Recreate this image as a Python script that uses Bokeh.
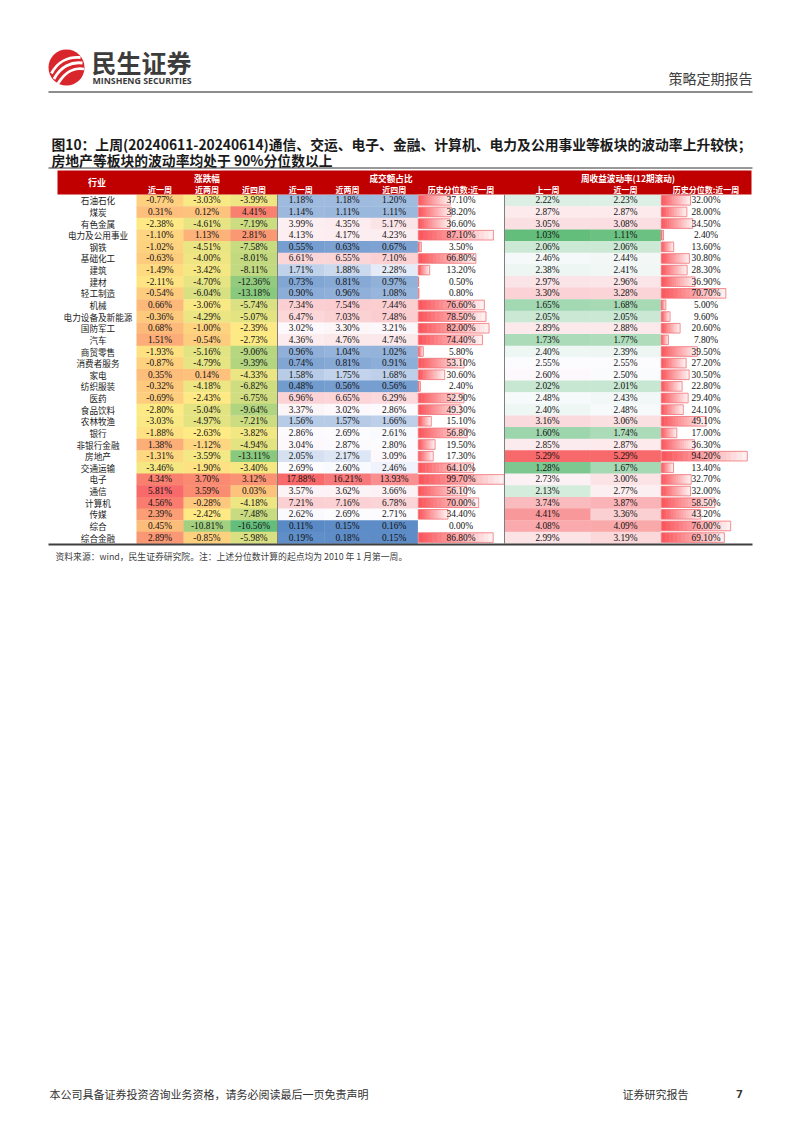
import numpy as np
from bokeh.plotting import figure
from bokeh.models import Range1d, ColumnDataSource
from bokeh.core.properties import value
from bokeh.embed import file_html
from bokeh.resources import INLINE

# ---------------- data ----------------
industries = ["石油石化", "煤炭", "有色金属", "电力及公用事业", "钢铁", "基础化工", "建筑", "建材",
              "轻工制造", "机械", "电力设备及新能源", "国防军工", "汽车", "商贸零售", "消费者服务", "家电",
              "纺织服装", "医药", "食品饮料", "农林牧渔", "银行", "非银行金融", "房地产", "交通运输",
              "电子", "通信", "计算机", "传媒", "综合", "综合金融"]
chg_1w = [-0.77, 0.31, -2.38, -1.10, -1.02, -0.63, -1.49, -2.11, -0.54, 0.66, -0.36, 0.68, 1.51, -1.93, -0.87,
          0.35, -0.32, -0.69, -2.80, -3.03, -1.88, 1.38, -1.31, -3.46, 4.34, 5.81, 4.56, 2.39, 0.45, 2.89]
chg_2w = [-3.03, 0.12, -4.61, 1.13, -4.51, -4.00, -3.42, -4.70, -6.04, -3.06, -4.29, -1.00, -0.54, -5.16, -4.79,
          0.14, -4.18, -2.43, -5.04, -4.97, -2.63, -1.12, -3.59, -1.90, 3.70, 3.59, -0.28, -2.42, -10.81, -0.85]
chg_4w = [-3.99, 4.41, -7.19, 2.81, -7.58, -8.01, -8.11, -12.36, -13.18, -5.74, -5.07, -2.39, -2.73, -9.06, -9.39,
          -4.33, -6.82, -6.75, -9.64, -7.21, -3.82, -4.94, -13.11, -3.40, 3.12, 0.03, -4.18, -7.48, -16.56, -5.98]
amt_1w = [1.18, 1.14, 3.99, 4.13, 0.55, 6.61, 1.71, 0.73, 0.90, 7.34, 6.47, 3.02, 4.36, 0.96, 0.74,
          1.58, 0.48, 6.96, 3.37, 1.56, 2.86, 3.04, 2.05, 2.69, 17.88, 3.57, 7.21, 2.62, 0.11, 0.19]
amt_2w = [1.18, 1.11, 4.35, 4.17, 0.63, 6.55, 1.88, 0.81, 0.96, 7.54, 7.03, 3.30, 4.76, 1.04, 0.81,
          1.75, 0.56, 6.65, 3.02, 1.57, 2.69, 2.87, 2.17, 2.60, 16.21, 3.62, 7.16, 2.69, 0.15, 0.18]
amt_4w = [1.20, 1.11, 5.17, 4.23, 0.67, 7.10, 2.28, 0.97, 1.08, 7.44, 7.48, 3.21, 4.74, 1.02, 0.91,
          1.68, 0.56, 6.29, 2.86, 1.66, 2.61, 2.80, 3.09, 2.46, 13.93, 3.66, 6.78, 2.71, 0.16, 0.15]
amt_pct = [37.10, 38.20, 36.60, 87.10, 3.50, 66.80, 13.20, 0.50, 0.80, 76.60, 78.50, 82.00, 74.40, 5.80, 53.10,
           30.60, 2.40, 52.90, 49.30, 15.10, 56.80, 19.50, 17.30, 64.10, 99.70, 56.10, 70.00, 34.40, 0.00, 86.80]
vol_prev = [2.22, 2.87, 3.05, 1.03, 2.06, 2.46, 2.38, 2.97, 3.30, 1.65, 2.05, 2.89, 1.73, 2.40, 2.55,
            2.60, 2.02, 2.48, 2.40, 3.16, 1.60, 2.85, 5.29, 1.28, 2.73, 2.13, 3.74, 4.41, 4.08, 2.99]
vol_now = [2.23, 2.87, 3.08, 1.11, 2.06, 2.44, 2.41, 2.96, 3.28, 1.68, 2.05, 2.88, 1.77, 2.39, 2.55,
           2.50, 2.01, 2.43, 2.48, 3.06, 1.74, 2.87, 5.29, 1.67, 3.00, 2.77, 3.87, 3.36, 4.09, 3.19]
vol_pct = [32.00, 28.00, 34.50, 2.40, 13.60, 30.80, 28.30, 36.90, 70.70, 5.00, 9.60, 20.60, 7.80, 39.50, 27.20,
           30.50, 22.80, 29.40, 24.10, 49.10, 17.00, 36.30, 94.20, 13.40, 32.70, 32.00, 58.50, 43.20, 76.00, 69.10]

group_labels = ["涨跌幅", "成交额占比", "周收益波动率(12期滚动)"]
sub_labels = ["近一周", "近两周", "近四周", "近一周", "近两周", "近四周", "历史分位数:近一周",
              "上一周", "近一周", "历史分位数:近一周"]

title1 = "图10：上周(20240611-20240614)通信、交运、电子、金融、计算机、电力及公用事业等板块的波动率上升较快；"
title2 = "房地产等板块的波动率均处于 90%分位数以上"
source_note = "资料来源：wind，民生证券研究院。注：上述分位数计算的起点均为 2010 年 1 月第一周。"

# ---------------- layout ----------------
W, H = 790, 1125
CJK = "Noto Sans CJK SC"
SERIF = "Liberation Serif"

p = figure(width=W, height=H, x_range=Range1d(0, W), y_range=Range1d(H, 0),
           output_backend="svg", toolbar_location=None, min_border=0,
           x_axis_location=None, y_axis_location=None)
p.xgrid.visible = False
p.ygrid.visible = False
p.outline_line_color = None
p.background_fill_color = "white"
p.border_fill_color = "white"

TOP = 194.0
RH = 11.63
n = len(industries)
ys0 = [TOP + i * RH for i in range(n)]
ys1 = [TOP + (i + 1) * RH for i in range(n)]
yc = [TOP + (i + 0.5) * RH for i in range(n)]

X_LEFT, X_RIGHT = 57, 751
edges = [136, 183, 230, 277, 323.7, 370.3, 417, 504, 590, 660, 751]
BAR_W = 86


def rgb_hex(c):
    return "#%02x%02x%02x" % tuple(int(round(v)) for v in c)


def scale3(vals, cmin, cmid, cmax, allvals):
    lo, mid, hi = min(allvals), float(np.percentile(allvals, 50)), max(allvals)
    out = []
    for v in vals:
        if v <= mid:
            t = (v - lo) / (mid - lo) if mid > lo else 1
            c = [a + t * (b - a) for a, b in zip(cmin, cmid)]
        else:
            t = (v - mid) / (hi - mid) if hi > mid else 0
            c = [a + t * (b - a) for a, b in zip(cmid, cmax)]
        out.append(rgb_hex(c))
    return out


GREEN = (99, 190, 123)
YELLOW = (255, 235, 132)
RED = (248, 105, 107)
WHITE = (252, 252, 255)
BLUE = (90, 138, 198)

chg_all = chg_1w + chg_2w + chg_4w
amt_all = amt_1w + amt_2w + amt_4w
vol_all = vol_prev + vol_now

colored_cols = [
    (0, chg_1w, scale3(chg_1w, GREEN, YELLOW, RED, chg_all)),
    (1, chg_2w, scale3(chg_2w, GREEN, YELLOW, RED, chg_all)),
    (2, chg_4w, scale3(chg_4w, GREEN, YELLOW, RED, chg_all)),
    (3, amt_1w, scale3(amt_1w, BLUE, WHITE, RED, amt_all)),
    (4, amt_2w, scale3(amt_2w, BLUE, WHITE, RED, amt_all)),
    (5, amt_4w, scale3(amt_4w, BLUE, WHITE, RED, amt_all)),
    (7, vol_prev, scale3(vol_prev, GREEN, WHITE, RED, vol_all)),
    (8, vol_now, scale3(vol_now, GREEN, WHITE, RED, vol_all)),
]

for ci, vals, cols in colored_cols:
    src = ColumnDataSource(dict(left=[edges[ci]] * n, right=[edges[ci + 1] + 0.4] * n,
                                top=ys0, bottom=[y + 0.4 for y in ys1], color=cols))
    p.quad(left="left", right="right", top="top", bottom="bottom", fill_color="color",
           line_color=None, source=src)
for ci, vals, cols in colored_cols:
    tsrc = ColumnDataSource(dict(x=[(edges[ci] + edges[ci + 1]) / 2] * n, y=yc,
                                 t=["%.2f%%" % v for v in vals]))
    p.text(x="x", y="y", text="t", source=tsrc, text_align="center", text_baseline="middle",
           text_font=value(SERIF), text_font_size="9.4px", text_color="#111111")

# data bars
BAR_L = (250, 88, 94)
BAR_R = (255, 240, 240)
NS = 16
for ci, vals in [(6, amt_pct), (9, vol_pct)]:
    vmax = max(vals)
    x0 = edges[ci] + 0.8
    L, R, T, B, C = [], [], [], [], []
    bl, br, bt, bb = [], [], [], []
    for i, v in enumerate(vals):
        if v <= 0:
            continue
        length = v / vmax * BAR_W
        for k in range(NS):
            t = k / (NS - 1)
            L.append(x0 + k * length / NS)
            R.append(min(x0 + (k + 1) * length / NS + 0.6, x0 + length))
            T.append(ys0[i] + 1.0)
            B.append(ys1[i] - 1.0)
            C.append(rgb_hex([a + t * (b - a) for a, b in zip(BAR_L, BAR_R)]))
        bl.append(x0)
        br.append(x0 + length)
        bt.append(ys0[i] + 1.0)
        bb.append(ys1[i] - 1.0)
    p.quad(left=L, right=R, top=T, bottom=B, fill_color=C, line_color=None)
    p.quad(left=bl, right=br, top=bt, bottom=bb, fill_alpha=0, line_color="#f07378", line_width=0.8)
    tsrc = ColumnDataSource(dict(x=[(edges[ci] + edges[ci + 1]) / 2] * n, y=yc,
                                 t=["%.2f%%" % v for v in vals]))
    p.text(x="x", y="y", text="t", source=tsrc, text_align="center", text_baseline="middle",
           text_font=value(SERIF), text_font_size="9.4px", text_color="#111111")

# industry names
p.text(x=[(X_LEFT + edges[0]) / 2 + 1] * n, y=yc, text=industries, text_align="center",
       text_baseline="middle", text_font=value(CJK), text_font_size="8.6px", text_color="#222222")

# header
p.quad(left=[X_LEFT], right=[X_RIGHT], top=[170], bottom=[TOP], fill_color="#c00000", line_color=None)
p.text(x=[(X_LEFT + edges[0]) / 2], y=[182], text=["行业"], text_align="center", text_baseline="middle",
       text_font=value(CJK), text_font_size="9px", text_font_style="bold", text_color="white")
grp_x = [(edges[0] + edges[3]) / 2, (edges[3] + edges[7]) / 2, (edges[7] + edges[10]) / 2]
p.text(x=grp_x, y=[177] * 3, text=group_labels, text_align="center", text_baseline="middle",
       text_font=value(CJK), text_font_size="8.6px", text_font_style="bold", text_color="white")
sub_x = [(edges[i] + edges[i + 1]) / 2 for i in range(10)]
p.text(x=sub_x, y=[189] * 10, text=sub_labels, text_align="center", text_baseline="middle",
       text_font=value(CJK), text_font_size="8px", text_font_style="bold", text_color="white")

# separators
p.segment(x0=[277, 504], y0=[TOP, TOP], x1=[277, 504], y1=[ys1[-1], ys1[-1]],
          line_color="#7f7f7f", line_width=1)
p.segment(x0=[48], y0=[ys1[-1] + 1.2], x1=[752], y1=[ys1[-1] + 1.2], line_color="#3f3f3f", line_width=2)
p.segment(x0=[48], y0=[167.5], x1=[752], y1=[167.5], line_color="#333333", line_width=1)
p.segment(x0=[48], y0=[91.5], x1=[752], y1=[91.5], line_color="#8c8c8c", line_width=2)

# title
p.text(x=[51, 51], y=[143.5, 159.5], text=[title1, title2], text_align="left", text_baseline="middle",
       text_font=value(CJK), text_font_size="13.8px", text_font_style="bold", text_color="#1a1a1a")

# source note
p.text(x=[55], y=[556], text=[source_note], text_align="left", text_baseline="middle",
       text_font=value(CJK), text_font_size="8.8px", text_color="#404040")

# page header: logo
p.circle(x=[66], y=[67], radius=18, fill_color="#d9262c", line_color=None)
p.bezier(x0=[51, 53.5, 57.5], y0=[73, 78.5, 83], x1=[80, 82, 83.5], y1=[57, 62.5, 68.5],
         cx0=[57, 60, 64.5], cy0=[61, 66, 71.5], cx1=[68, 71, 74], cy1=[56, 61, 66.5],
         line_color="white", line_width=2.8)
p.text(x=[91], y=[61], text=["民生证券"], text_align="left", text_baseline="middle",
       text_font=value(CJK), text_font_size="25px", text_font_style="bold", text_color="#3c3c3c")
p.text(x=[92], y=[80], text=["MINSHENG SECURITIES"], text_align="left", text_baseline="middle",
       text_font=value("Open Sans"), text_font_size="8.8px", text_font_style="bold", text_color="#3c3c3c")
p.text(x=[752], y=[77], text=["策略定期报告"], text_align="right", text_baseline="middle",
       text_font=value(CJK), text_font_size="14px", text_color="#404040")

# footer
p.text(x=[49], y=[1093], text=["本公司具备证券投资咨询业务资格，请务必阅读最后一页免责声明"], text_align="left",
       text_baseline="middle", text_font=value(CJK), text_font_size="11px", text_color="#333333")
p.text(x=[622], y=[1093], text=["证券研究报告"], text_align="left", text_baseline="middle",
       text_font=value(CJK), text_font_size="11px", text_color="#333333")
p.text(x=[739], y=[1093], text=["7"], text_align="center", text_baseline="middle",
       text_font=value("Open Sans"), text_font_size="11px", text_font_style="bold", text_color="#333333")

open("out.html", "w").write(file_html(p, INLINE))
